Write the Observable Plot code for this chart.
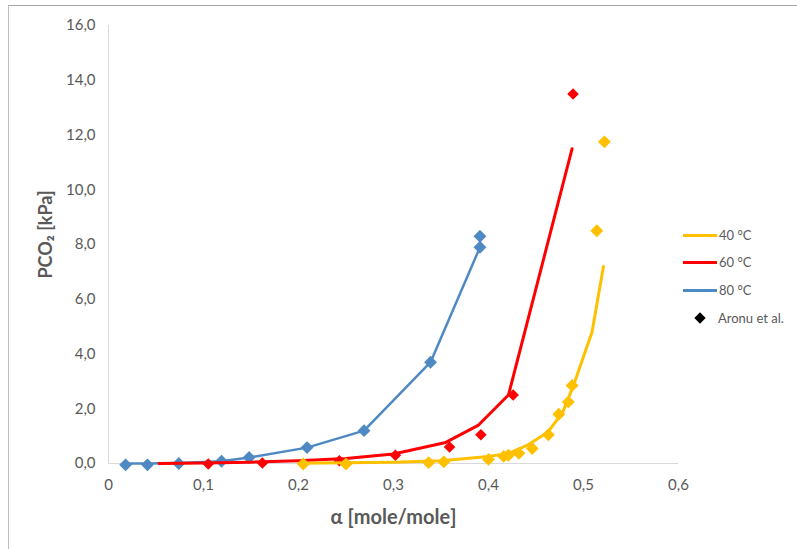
<!DOCTYPE html>
<html>
<head>
<meta charset="utf-8">
<script src="https://cdn.jsdelivr.net/npm/d3@7"></script>
<script src="https://cdn.jsdelivr.net/npm/@observablehq/plot@0.6"></script>
<style>
  html, body { margin: 0; padding: 0; background: #fff; }
  #wrap { position: relative; width: 797px; height: 549px; overflow: hidden; font-family: Lato, "Open Sans", sans-serif; }
  #frame { position: absolute; left: 8px; top: 5px; width: 800px; height: 560px; border-top: 1.5px solid #a6a6a6; border-left: 1.5px solid #bfbfbf; box-sizing: border-box; pointer-events: none; }
  .leg { position: absolute; left: 683px; font-size: 13px; color: #595959; display: flex; align-items: center; }
  .leg .ln { width: 34px; height: 3px; margin-right: 2px; }
  .leg .dm { width: 8px; height: 8px; background: #000; transform: rotate(45deg); margin: 0 14px 0 13px; }
</style>
</head>
<body>
<div id="wrap"><div id="frame"></div></div>
<script>
// ---- data ----
// 80 °C model (line) and Aronu et al. data (markers)
const model80_alpha = [0.018, 0.041, 0.074, 0.119, 0.148, 0.209, 0.269, 0.339, 0.391];
const model80_p     = [0.00, 0.00, 0.02, 0.08, 0.22, 0.58, 1.20, 3.70, 7.90];
const data80_alpha  = [0.018, 0.041, 0.074, 0.119, 0.148, 0.209, 0.269, 0.339, 0.391, 0.391];
const data80_p      = [-0.05, -0.05, 0.00, 0.08, 0.22, 0.58, 1.20, 3.70, 7.90, 8.30];

// 60 °C model (line) and data (markers)
const model60_alpha = [0.053, 0.100, 0.150, 0.200, 0.250, 0.300, 0.355, 0.389, 0.421, 0.488];
const model60_p     = [0.00, 0.02, 0.05, 0.10, 0.18, 0.35, 0.77, 1.39, 2.50, 11.50];
const data60_alpha  = [0.105, 0.162, 0.243, 0.302, 0.359, 0.392, 0.426, 0.489];
const data60_p      = [-0.02, 0.02, 0.10, 0.30, 0.60, 1.05, 2.50, 13.50];

// 40 °C model (line) and data (markers)
const model40_alpha = [0.200, 0.300, 0.350, 0.400, 0.421, 0.440, 0.462, 0.478, 0.490, 0.509, 0.521];
const model40_p     = [0.01, 0.05, 0.10, 0.26, 0.37, 0.65, 1.13, 1.86, 2.90, 4.80, 7.20];
const data40_alpha  = [0.205, 0.250, 0.337, 0.353, 0.400, 0.416, 0.421, 0.432, 0.446, 0.463, 0.474, 0.484, 0.488, 0.514, 0.522];
const data40_p      = [-0.02, -0.02, 0.03, 0.06, 0.15, 0.26, 0.30, 0.37, 0.55, 1.05, 1.80, 2.25, 2.85, 8.50, 11.75];

const xTicks = [0, 0.1, 0.2, 0.3, 0.4, 0.5, 0.6];
const yTicks = [0, 2, 4, 6, 8, 10, 12, 14, 16];

const legendLabels = ["40 °C", "60 °C", "80 °C", "Aronu et al."];
const colors = { c40: "#ffc000", c60: "#ff0000", c80: "#4f89c3" };

// ---- build tables ----
const zip = (xs, ys) => xs.map((x, i) => ({ x, y: ys[i] }));
const m80 = zip(model80_alpha, model80_p), d80 = zip(data80_alpha, data80_p);
const m60 = zip(model60_alpha, model60_p), d60 = zip(data60_alpha, data60_p);
const m40 = zip(model40_alpha, model40_p), d40 = zip(data40_alpha, data40_p);

const fmtX = d => d === 0 ? "0" : String(d.toFixed(1)).replace(".", ",");
const fmtY = d => d.toFixed(1).replace(".", ",");

const chart = Plot.plot({
  width: 797,
  height: 549,
  marginLeft: 108,
  marginRight: 119,
  marginTop: 25,
  marginBottom: 86,
  style: { fontFamily: "Lato, 'Open Sans', sans-serif", background: "transparent", overflow: "visible" },
  x: { domain: [0, 0.6] },
  y: { domain: [0, 16] },
  marks: [
    Plot.ruleX([0], { y1: 0, y2: 16, stroke: "#d9d9d9", strokeWidth: 1 }),
    Plot.ruleY([0], { x1: 0, x2: 0.6, stroke: "#d9d9d9", strokeWidth: 1 }),
    Plot.axisX(xTicks, { tickSize: 0, tickPadding: 16, tickFormat: fmtX, fontSize: 15, fill: "#595959", label: null }),
    Plot.axisY(yTicks, { tickSize: 0, tickPadding: 13, tickFormat: fmtY, fontSize: 15, fill: "#595959", label: null }),
    Plot.text(["α [mole/mole]"], { frameAnchor: "bottom", dy: 60, fontSize: 20, fontWeight: "bold", fill: "#595959" }),
    Plot.text(["PCO₂ [kPa]"], { frameAnchor: "left", textAnchor: "middle", dx: -62, dy: -10, rotate: -90, fontSize: 18, fontWeight: "bold", fill: "#595959" }),
    // 80 °C
    Plot.line(m80, { x: "x", y: "y", stroke: colors.c80, strokeWidth: 2.5 }),
    Plot.dot(d80, { x: "x", y: "y", symbol: "diamond2", r: 5.8, fill: colors.c80, stroke: null }),
    // 60 °C
    Plot.line(m60, { x: "x", y: "y", stroke: colors.c60, strokeWidth: 3 }),
    Plot.dot(d60, { x: "x", y: "y", symbol: "diamond2", r: 5.2, fill: colors.c60, stroke: null }),
    // 40 °C
    Plot.line(m40, { x: "x", y: "y", stroke: colors.c40, strokeWidth: 3 }),
    Plot.dot(d40, { x: "x", y: "y", symbol: "diamond2", r: 5.8, fill: colors.c40, stroke: null })
  ]
});

const wrap = document.getElementById("wrap");
chart.style.position = "absolute";
chart.style.left = "0px";
chart.style.top = "0px";
wrap.appendChild(chart);

// legend
const legTops = [235, 262, 290, 318];
const legColors = [colors.c40, colors.c60, colors.c80, null];
legendLabels.forEach((lab, i) => {
  const item = document.createElement("div");
  item.className = "leg";
  item.style.top = (legTops[i] - 8) + "px";
  item.style.height = "16px";
  if (legColors[i]) {
    const ln = document.createElement("span");
    ln.className = "ln";
    ln.style.background = legColors[i];
    item.appendChild(ln);
  } else {
    const dm = document.createElement("span");
    dm.className = "dm";
    item.appendChild(dm);
  }
  const t = document.createElement("span");
  t.textContent = lab;
  item.appendChild(t);
  wrap.appendChild(item);
});
</script>
</body>
</html>
